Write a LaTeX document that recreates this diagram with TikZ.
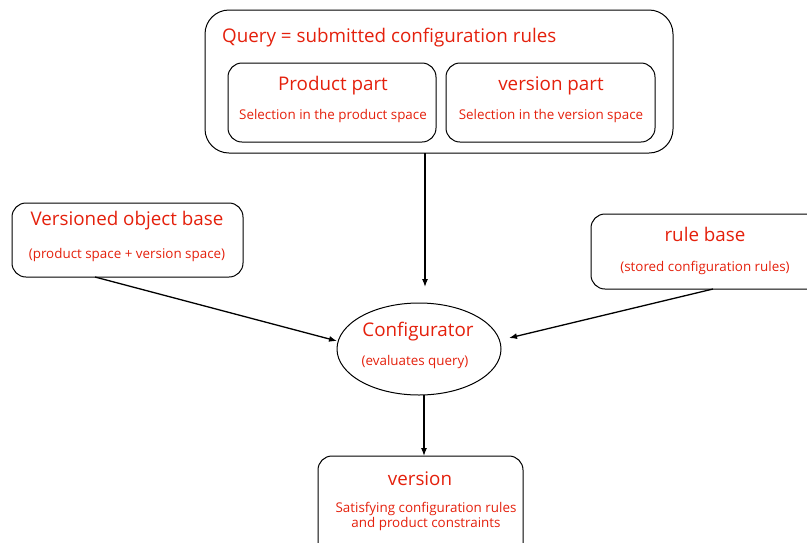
\documentclass[tikz,border=0pt]{standalone}
\usepackage{fontspec}
\setmainfont{Open Sans}
\usetikzlibrary{arrows.meta,shapes.geometric}
\definecolor{txtred}{RGB}{228,32,12}
\tikzset{
  box/.style={draw=black,line width=1pt,rounded corners=14pt},
  bigbox/.style={draw=black,line width=1pt,rounded corners=24pt},
  title/.style={text=txtred,font=\fontsize{18.8}{22}\selectfont,inner sep=0pt},
  sub/.style={text=txtred,font=\fontsize{13.4}{15.5}\selectfont,inner sep=0pt,align=center},
  flow/.style={draw=black,line width=1.3pt,-{Latex[length=8pt,width=6pt]}}
}
\begin{document}
\begin{tikzpicture}[x=1pt,y=-1pt]
\useasboundingbox (0,0) rectangle (807,542);
\begin{scope}
\clip (0,0) rectangle (807,542);
% query with its two parts
\draw[bigbox] (205,10) rectangle (673,153);
\node[coordinate] (qbot) at (425,153) {};
\node[title,anchor=west] (qtitle) at (222,37.5) {Query = submitted configuration rules};
\draw[box] (228,63) rectangle (436,142);
\node[title] (prod) at (333,86) {Product part};
\node[sub] (prodsub) at (333,116.5) {Selection in the product space};
\draw[box] (446,63) rectangle (655,142);
\node[title] (ver) at (551,86) {version part};
\node[sub] (versub) at (551,116.5) {Selection in the version space};
% object base and rule base
\draw[box] (12,203) rectangle (243,277);
\node[coordinate] (obase) at (95,277) {};
\node[title] (ob) at (127,221) {Versioned object base};
\node[sub] (obsub) at (127,255.5) {(product space + version space)};
\draw[box] (591,214) rectangle (822,289);
\node[coordinate] (rbase) at (713,289) {};
\node[title] (rb) at (705,234) {rule base};
\node[sub] (rbsub) at (705,267.5) {(stored configuration rules)};
% configurator
\node[draw=black,line width=1pt,ellipse,minimum width=164pt,minimum height=92pt,inner sep=0pt] (conf) at (419,349) {};
\node[title] (ct) at (418,332) {Configurator};
\node[sub] (csub) at (415,362.5) {(evaluates query)};
% result
\draw[box] (318,456) rectangle (523,560);
\node[coordinate] (restop) at (424,456) {};
\node[title] (rv) at (420,479) {version};
\node[sub] (rvsub) at (426,516.5) {Satisfying configuration rules\\and product constraints};
\end{scope}
% connectors
\node[coordinate] (ctop) at (425,287) {};
\node[coordinate] (cleft) at (337,341) {};
\node[coordinate] (cright) at (509,338) {};
\node[coordinate] (cbot) at (424,395) {};
\draw[flow] (qbot) -- (ctop);
\draw[flow] (obase) -- (cleft);
\draw[flow] (rbase) -- (cright);
\draw[flow] (cbot) -- (restop);
\end{tikzpicture}
\end{document}
